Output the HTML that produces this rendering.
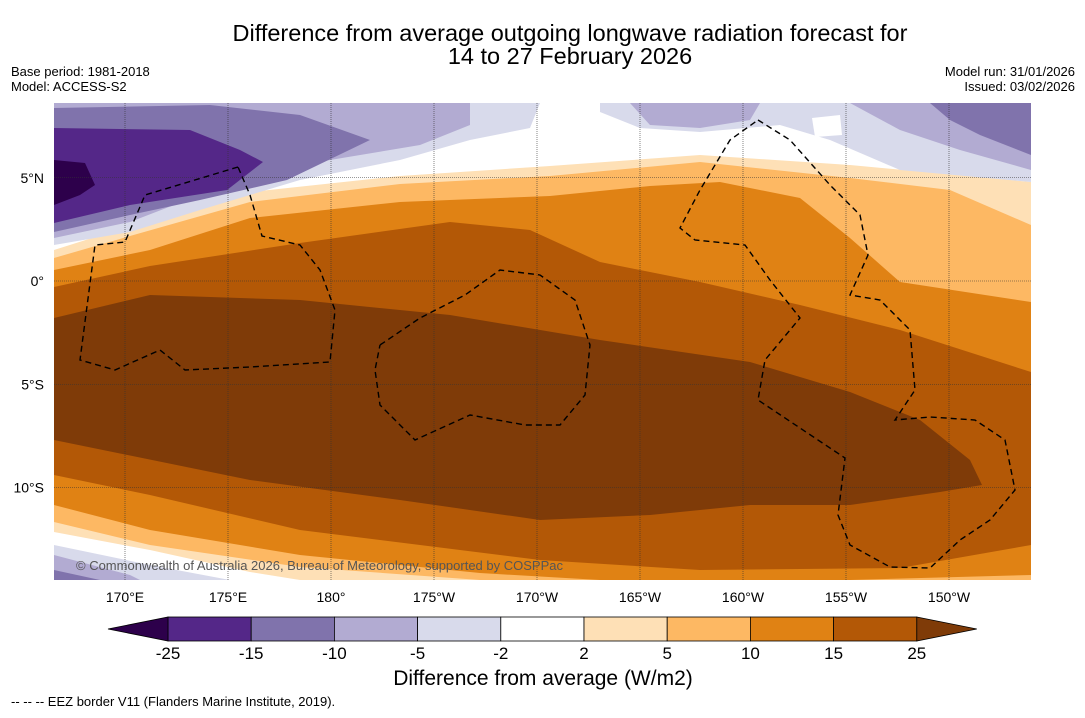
<!DOCTYPE html>
<html><head><meta charset="utf-8"><style>
body{margin:0;background:#fff;font-family:"Liberation Sans",sans-serif;}
svg text{font-family:"Liberation Sans",sans-serif;}
</style></head><body>
<svg id="chart" width="1085" height="713" xmlns="http://www.w3.org/2000/svg">
<text x="570" y="41" font-size="23.5" text-anchor="middle">Difference from average outgoing longwave radiation forecast for</text>
<text x="570" y="64" font-size="23.5" text-anchor="middle">14 to 27 February 2026</text>
<text x="11" y="76" font-size="13">Base period: 1981-2018</text>
<text x="11" y="91" font-size="13">Model: ACCESS-S2</text>
<text x="1075" y="76" font-size="13" text-anchor="end">Model run: 31/01/2026</text>
<text x="1075" y="91" font-size="13" text-anchor="end">Issued: 03/02/2026</text>
<defs><clipPath id="mc"><rect x="54" y="103" width="977" height="477"/></clipPath></defs>
<g id="map" clip-path="url(#mc)"></g>
<g id="cbar"></g>
<text x="543" y="685" font-size="21" text-anchor="middle">Difference from average (W/m2)</text>
<text x="11" y="706" font-size="13">--  --  -- EEZ border V11 (Flanders Marine Institute, 2019).</text>
</svg>
<script>
const levels=[-25,-15,-10,-5,-2,2,5,10,15,25];
const levelColors=["#542788","#8073ac","#b2abd2","#d8daeb","#ffffff","#fee0b6","#fdb863","#e08214","#b35806"];
const underColor="#2d004b", overColor="#7f3b08";
const lonTicks=["170°E","175°E","180°","175°W","170°W","165°W","160°W","155°W","150°W"];
const lonValues=[170,175,180,185,190,195,200,205,210];
const latTicks=["5°N","0°","5°S","10°S"];
const latValues=[5,0,-5,-10];
const NS="http://www.w3.org/2000/svg";
const xLon=l=>125+(l-170)*20.6;
const yLat=l=>281-l*20.65;
const map=document.getElementById('map');
function poly(pts,fill,name){const p=document.createElementNS(NS,'polygon');p.setAttribute('points',pts.map(q=>q.join(',')).join(' '));p.setAttribute('fill',fill);


map.appendChild(p);}
poly([[54,103],[1031,103],[1031,580],[54,580]],"#ffffff","band-neutral");
poly([[54,250],[130,226],[250,192],[400,176],[550,166],[700,155],[850,165],[1031,182],[1031,580],[300,580],[250,572],[150,550],[54,532]],"#fee0b6","band-2-5");
poly([[54,258],[130,236],[250,202],[400,184],[550,176],[700,162],[850,178],[950,190],[1031,225],[1031,580],[480,580],[300,567],[150,545],[54,522]],"#fdb863","band-5-10");
poly([[54,270],[150,250],[250,218],[400,202],[550,196],[650,186],[720,182],[800,198],[850,238],[900,282],[1031,302],[1031,575],[850,580],[600,580],[480,573],[300,555],[150,530],[54,505]],"#e08214","band-10-15");
poly([[54,287],[150,266],[300,243],[450,222],[530,230],[600,262],[700,282],[800,305],[900,330],[1031,372],[1031,545],[900,568],[700,570],[540,560],[300,530],[150,495],[54,475]],"#b35806","band-15-25");
poly([[54,318],[150,295],[300,300],[450,315],[600,340],[750,362],[850,392],[920,420],[970,460],[982,485],[940,492],[850,505],[750,505],[650,515],[540,520],[400,500],[250,480],[54,440]],"#7f3b08","band-over-25");
poly([[54,103],[540,103],[530,128],[470,140],[400,160],[300,180],[200,210],[130,232],[54,245]],"#d8daeb","band-minus5-minus2");
poly([[54,103],[470,103],[470,125],[420,145],[300,165],[200,195],[130,222],[54,238]],"#b2abd2","band-minus10-minus5");
poly([[54,108],[210,105],[300,115],[370,140],[287,180],[200,200],[130,215],[54,232]],"#8073ac","band-minus15-minus10");
poly([[54,128],[190,130],[240,150],[263,162],[227,190],[130,205],[54,223]],"#542788","band-minus25-minus15");
poly([[54,160],[85,163],[95,185],[80,195],[54,205]],"#2d004b","band-under-25");
poly([[600,103],[1031,103],[1031,182],[900,170],[830,140],[780,125],[700,132],[640,128],[600,112]],"#d8daeb","band-ne-minus5");
poly([[630,103],[760,103],[750,120],[700,128],[650,125]],"#b2abd2","band-ne-minus10-a");
poly([[850,103],[1031,103],[1031,170],[960,150],[900,130]],"#b2abd2","band-ne-minus10-b");
poly([[930,103],[1031,103],[1031,155],[980,135],[950,120]],"#8073ac","band-ne-minus15");
poly([[54,545],[150,565],[230,580],[54,580]],"#d8daeb","band-sw-minus5");
poly([[54,555],[130,575],[140,580],[54,580]],"#b2abd2","band-sw-minus10");
poly([[54,570],[100,580],[54,580]],"#8073ac","band-sw-minus15");
poly([[812,118],[840,115],[842,135],[815,137]],"#ffffff","white-patch");
lonValues.forEach(v=>{const l=document.createElementNS(NS,'line');const x=xLon(v);l.setAttribute('x1',x);l.setAttribute('x2',x);l.setAttribute('y1',103);l.setAttribute('y2',580);l.setAttribute('stroke','#333');l.setAttribute('stroke-width','0.6');l.setAttribute('stroke-dasharray','1,1');


map.appendChild(l);});
latValues.forEach(v=>{const l=document.createElementNS(NS,'line');const y=yLat(v);l.setAttribute('x1',54);l.setAttribute('x2',1031);l.setAttribute('y1',y);l.setAttribute('y2',y);l.setAttribute('stroke','#333');l.setAttribute('stroke-width','0.6');l.setAttribute('stroke-dasharray','1,1');


map.appendChild(l);});
const eez=[
[[238,167],[145,195],[125,242],[95,245],[80,360],[115,370],[160,350],[185,370],[250,367],[330,362],[335,310],[320,270],[300,245],[262,236],[250,195],[238,167]],
[[380,345],[420,318],[465,295],[500,270],[540,275],[575,300],[590,345],[585,395],[560,425],[525,425],[470,415],[415,440],[380,405],[375,370],[380,345]],
[[758,120],[790,140],[830,185],[860,215],[868,255],[850,295],[880,300],[910,330],[915,390],[895,420],[930,417],[975,420],[1005,440],[1015,490],[990,520],[960,540],[930,568],[890,567],[850,545],[838,515],[845,458],[758,400],[765,360],[800,318],[770,280],[745,245],[695,240],[680,228],[700,190],[730,140],[758,120]]
];
eez.forEach((pts,i)=>{const p=document.createElementNS(NS,'polyline');p.setAttribute('points',pts.map(q=>q.join(',')).join(' '));p.setAttribute('fill','none');p.setAttribute('stroke','#000');p.setAttribute('stroke-width','1.4');p.setAttribute('stroke-dasharray','6,4');


map.appendChild(p);});
const cp=document.createElementNS(NS,'text');cp.setAttribute('x',76);cp.setAttribute('y',570);cp.setAttribute('font-size','13');cp.setAttribute('fill','#555');cp.textContent='© Commonwealth of Australia 2026, Bureau of Meteorology, supported by COSPPac';


map.appendChild(cp);
const svg=document.getElementById('chart');
lonTicks.forEach((t,i)=>{const e=document.createElementNS(NS,'text');e.setAttribute('x',xLon(lonValues[i]));e.setAttribute('y',602);e.setAttribute('font-size','14');e.setAttribute('text-anchor','middle');e.textContent=t;


svg.appendChild(e);});
latTicks.forEach((t,i)=>{const e=document.createElementNS(NS,'text');e.setAttribute('x',44);e.setAttribute('y',yLat(latValues[i])+5);e.setAttribute('font-size','14');e.setAttribute('text-anchor','end');e.textContent=t;


svg.appendChild(e);});
const cb=document.getElementById('cbar');
const cx0=168,cw=83.2,cy=617,ch=24;
levelColors.forEach((c,i)=>{const r=document.createElementNS(NS,'rect');r.setAttribute('x',cx0+i*cw);r.setAttribute('y',cy);r.setAttribute('width',cw);r.setAttribute('height',ch);r.setAttribute('fill',c);r.setAttribute('stroke','#000');r.setAttribute('stroke-width','0.8');


cb.appendChild(r);});
const xe=cx0+levelColors.length*cw;
[[`108,629 ${cx0},${cy} ${cx0},${cy+ch}`,underColor],[`${xe},${cy} ${xe+60},629 ${xe},${cy+ch}`,overColor]].forEach(([pt,c])=>{const p=document.createElementNS(NS,'polygon');p.setAttribute('points',pt);p.setAttribute('fill',c);p.setAttribute('stroke','#000');p.setAttribute('stroke-width','0.8');


cb.appendChild(p);});
levels.forEach((v,i)=>{const e=document.createElementNS(NS,'text');e.setAttribute('x',cx0+i*cw);e.setAttribute('y',659);e.setAttribute('font-size','17');e.setAttribute('text-anchor','middle');e.textContent=v;


cb.appendChild(e);});
</script>
</body></html>
